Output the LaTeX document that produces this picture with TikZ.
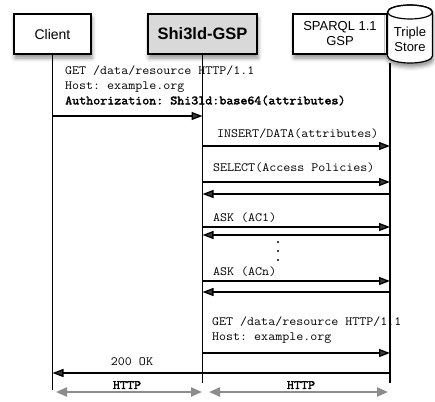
\documentclass[tikz,border=0pt]{standalone}
\usepackage{fontspec}
\setmainfont{Liberation Sans}
\setsansfont{Liberation Sans}
\setmonofont{Latin Modern Mono}[FakeStretch=1.08,BoldFont={Latin Modern Mono},BoldFeatures={FakeBold=2.5}]
\usetikzlibrary{arrows.meta,shadows.blur}
\definecolor{boxgray}{HTML}{D9D9D9}
\definecolor{httpgray}{HTML}{8C8C8C}
\begin{document}
\begin{tikzpicture}[x=1pt,y=-1pt,
  shade box/.style={blur shadow={shadow xshift=1pt,shadow yshift=-4pt,shadow blur radius=4pt,shadow opacity=45}},
  actor/.style={draw=black,line width=1.2pt,fill=white,inner sep=0pt,shade box,minimum height=40pt},
  life/.style={line width=1.1pt},
  msg/.style={line width=1.3pt,-{Triangle[length=11pt,width=8pt]}},
  lbl/.style={font=\ttfamily\fontsize{12.6}{15}\selectfont,inner sep=0pt,anchor=west,align=left},
  httplbl/.style={font=\ttfamily\bfseries\fontsize{12.6}{14}\selectfont,inner sep=0pt},
  http/.style={draw=httpgray,line width=2.2pt,{Triangle[length=11pt,width=9pt]}-{Triangle[length=11pt,width=9pt]}},
  dot/.style={fill=black,circle,inner sep=0pt,minimum size=2.2pt}
]
\useasboundingbox (0,0) rectangle (435,401);

% actors
\node[actor,minimum width=77pt,font=\fontsize{14}{16}\selectfont] (client) at (52.5,34) {Client};
\node[actor,fill=boxgray,minimum width=109pt,font=\bfseries\fontsize{16.5}{18}\selectfont] (shield) at (202.5,34) {Shi3ld-GSP};
\node[actor,minimum width=94pt,align=center,font=\fontsize{13}{15}\selectfont] (sparql) at (340,34) {SPARQL 1.1\\GSP};

% triple store cylinder
\path[draw=black,line width=1.2pt,fill=white,shade box]
  (387.5,12) -- (387.5,56) arc[start angle=180,end angle=0,x radius=22.5,y radius=7]
  -- (432.5,12) arc[start angle=0,end angle=-180,x radius=22.5,y radius=7] -- cycle;
\draw[line width=1.2pt] (410,12) ellipse[x radius=22.5,y radius=7];
\node[align=center,inner sep=0pt,font=\fontsize{13}{15}\selectfont] (store) at (410,39.5) {Triple\\Store};

% lifelines
\coordinate (clientEnd) at (52.5,390);
\coordinate (shieldEnd) at (202.5,383);
\coordinate (storeTop) at (390,63);
\coordinate (storeEnd) at (390,383);
\draw[life] (client.south) -- (clientEnd);
\draw[life] (shield.south) -- (shieldEnd);
\draw[life] (storeTop) -- (storeEnd);

% message 1
\node[lbl] (m1) at (65,85.5) {GET /data/resource HTTP/1.1\\Host: example.org\\\textbf{Authorization: Shi3ld:base64(attributes)}};
\coordinate (a1) at (52.5,116); \coordinate (b1) at (202.5,116);
\draw[msg] (a1) -- (b1);

% insert
\node[lbl] (m2) at (217,134) {INSERT/DATA(attributes)};
\coordinate (a2) at (202.5,146); \coordinate (b2) at (390,146);
\draw[msg] (a2) -- (b2);

% select
\node[lbl] (m3) at (213,168) {SELECT(Access Policies)};
\coordinate (a3) at (202.5,182); \coordinate (b3) at (390,182);
\draw[msg] (a3) -- (b3);
\coordinate (a4) at (390,194); \coordinate (b4) at (202.5,194);
\draw[msg] (a4) -- (b4);

% ask ac1
\node[lbl] (m4) at (213,218) {ASK (AC1)};
\coordinate (a5) at (202.5,227); \coordinate (b5) at (390,227);
\draw[msg] (a5) -- (b5);
\coordinate (a6) at (390,235); \coordinate (b6) at (202.5,235);
\draw[msg] (a6) -- (b6);

% dots
\node[dot] (d1) at (278,242) {};
\node[dot] (d2) at (278,251) {};
\node[dot] (d3) at (278,260) {};

% ask acn
\node[lbl] (m5) at (213,272) {ASK (ACn)};
\coordinate (a7) at (202.5,281); \coordinate (b7) at (390,281);
\draw[msg] (a7) -- (b7);
\coordinate (a8) at (390,292); \coordinate (b8) at (202.5,292);
\draw[msg] (a8) -- (b8);

% get
\node[lbl] (m6) at (212,330.5) {GET /data/resource HTTP/1.1\\Host: example.org};
\coordinate (a9) at (202.5,353); \coordinate (b9) at (390,353);
\draw[msg] (a9) -- (b9);

% 200 OK
\node[lbl,anchor=center] (m7) at (132,362) {200 OK};
\coordinate (a10) at (390,373); \coordinate (b10) at (52.5,373);
\draw[msg] (a10) -- (b10);

% HTTP
\node[httplbl] (h1) at (127,385) {HTTP};
\node[httplbl] (h2) at (301,385) {HTTP};
\coordinate (hl1) at (56,392); \coordinate (hr1) at (202,392);
\coordinate (hl2) at (209,392); \coordinate (hr2) at (388,392);
\draw[http] (hl1) -- (hr1);
\draw[http] (hl2) -- (hr2);
\end{tikzpicture}
\end{document}
